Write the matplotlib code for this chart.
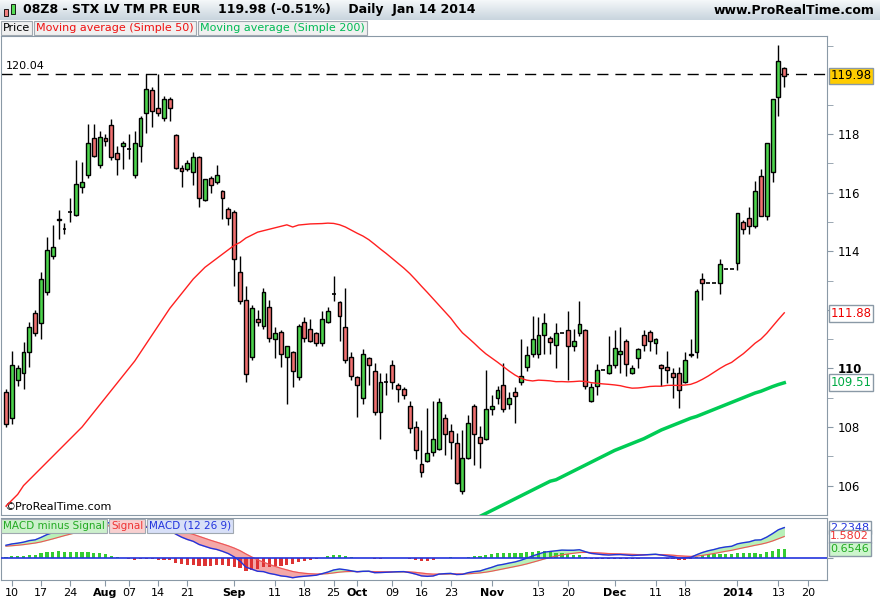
import numpy as np
import pandas as pd
import matplotlib
matplotlib.use("Agg")
import matplotlib.pyplot as plt
from matplotlib.patches import Rectangle

# ---------------- data ----------------
ohlc = [
(109.2,109.3,108.0,108.1),(108.3,110.6,108.1,110.1),(109.6,110.1,109.4,110.0),(109.85,110.9,109.3,110.55),
(110.55,111.6,110.05,111.4),(111.9,112.0,111.1,111.2),(111.55,113.3,111.0,113.05),(112.6,114.5,112.5,114.05),
(113.85,114.9,113.75,114.15),(115.1,115.4,114.4,115.05),(114.75,114.95,114.6,114.75),(115.35,115.8,115.0,115.35),
(115.25,117.1,115.2,116.3),(116.2,117.05,116.0,116.35),(116.6,118.35,116.5,117.7),(117.85,118.35,117.2,117.25),
(116.95,118.1,116.85,117.9),(117.85,118.0,117.6,117.75),(118.3,118.5,117.1,117.2),(117.35,117.6,116.6,117.15),
(117.6,117.75,116.8,117.7),(117.5,118.0,117.15,117.5),(116.6,118.1,116.5,117.7),(117.6,118.6,117.05,118.55),
(118.7,120.04,118.05,119.55),(119.5,119.6,118.25,118.8),(118.9,120.04,118.6,118.7),(118.55,119.3,118.45,119.2),
(119.2,119.25,118.45,118.9),(117.95,118.0,116.8,116.85),(116.85,116.95,116.2,116.75),(116.8,117.1,116.75,117.0),
(116.7,117.4,116.25,117.2),(117.2,117.25,115.5,115.8),(115.75,116.45,115.7,116.45),(116.5,116.55,116.0,116.25),
(116.35,116.95,116.3,116.6),(116.05,116.1,115.1,115.8),(115.45,115.5,114.9,115.15),(115.35,115.4,112.8,113.75),
(113.3,113.85,112.2,112.3),(112.35,112.8,109.55,109.8),(110.4,112.15,110.3,112.05),(111.7,112.0,111.45,111.6),
(111.45,112.75,111.35,112.6),(112.1,112.35,110.9,111.05),(111.0,111.4,110.35,111.2),(111.25,111.3,110.05,110.5),
(110.4,110.75,108.8,110.75),(110.55,110.6,109.35,109.9),(109.7,111.5,109.6,111.45),(111.6,111.75,110.9,111.05),
(111.35,111.7,110.9,110.95),(111.2,111.25,110.75,110.85),(110.85,111.95,110.75,111.7),(111.6,112.1,111.55,111.95),
(112.55,113.15,112.3,112.55),(112.25,112.3,110.95,111.8),(111.4,112.75,110.2,110.3),(110.4,110.55,109.6,109.75),
(109.7,109.75,108.35,109.45),(109.0,110.65,108.8,110.5),(110.35,110.4,109.45,110.1),(109.9,110.2,108.4,108.5),
(108.5,109.85,107.6,109.55),(109.55,109.85,109.1,109.55),(110.1,110.3,109.3,109.55),(109.45,109.5,108.85,109.3),
(109.3,109.35,108.95,109.1),(108.7,108.9,107.8,107.95),(108.0,108.2,106.9,107.2),(106.75,107.9,106.3,106.45),
(106.85,108.65,106.8,107.1),(107.15,108.9,107.0,107.6),(107.25,109.0,107.2,108.85),(108.3,108.45,107.05,107.75),
(107.85,108.1,106.9,107.5),(107.45,107.8,106.05,106.1),(105.8,107.9,105.7,106.95),(106.95,108.4,106.9,108.15),
(108.7,108.8,106.7,107.75),(107.65,108.05,106.6,107.45),(107.6,109.95,107.55,108.6),(108.6,109.1,108.4,108.7),
(109.0,109.4,108.8,109.25),(109.45,110.2,108.5,108.6),(108.8,109.2,108.6,109.0),(109.2,109.35,108.15,109.05),
(109.55,111.0,109.45,109.75),(110.05,110.75,109.9,110.45),(110.5,111.8,110.4,111.0),(110.5,111.75,110.35,111.15),
(111.15,111.9,110.5,111.55),(111.05,111.1,110.5,110.9),(110.8,111.55,110.0,111.2),(111.2,111.2,111.2,111.2),
(111.3,111.95,109.6,110.75),(110.75,111.35,110.6,110.95),(111.2,112.3,111.1,111.5),(111.3,111.35,109.3,109.4),
(108.9,109.5,108.85,109.35),(109.4,110.15,109.1,109.95),(109.95,109.95,109.95,109.95),(109.85,111.1,109.8,110.1),
(110.1,111.3,110.0,110.7),(110.5,111.4,109.85,110.6),(110.95,111.0,109.75,110.15),(109.85,110.1,109.8,110.0),
(110.35,110.7,110.0,110.65),(111.15,111.3,110.6,110.8),(111.25,111.3,110.6,110.95),(110.85,111.05,110.5,111.0),
(110.1,110.15,109.4,110.0),(110.05,110.6,109.5,109.95),(109.85,110.0,109.0,109.7),(109.85,110.05,108.65,109.25),
(109.55,110.55,109.5,110.3),(110.45,111.0,110.4,110.5),(110.55,112.7,110.35,112.65),(113.05,113.25,112.35,112.9),
(112.9,112.9,112.9,112.9),(112.9,112.9,112.9,112.9),(112.9,113.75,112.55,113.55),(113.4,113.4,113.4,113.4),
(113.4,113.4,113.4,113.4),(113.6,115.3,113.35,115.3),(115.0,115.05,114.6,114.75),(115.15,115.5,114.6,114.85),
(114.85,116.4,114.8,116.05),(116.55,116.8,115.2,115.2),(115.2,117.7,115.05,117.7),(116.7,119.2,116.35,119.2),
(119.25,121.05,118.6,120.5),(120.25,120.3,119.6,119.98),
]
opens = np.array([r[0] for r in ohlc]); highs = np.array([r[1] for r in ohlc])
lows = np.array([r[2] for r in ohlc]); closes = np.array([r[3] for r in ohlc])
n = len(closes)

# SMA50 before enough history, then computed
sma50_early = [105.3,105.5,105.7,106.0,106.2,106.4,106.6,106.8,107.0,107.2,107.4,107.6,107.8,108.0,
108.25,108.5,108.75,109.0,109.25,109.5,109.75,110.0,110.25,110.55,110.85,111.15,111.45,111.75,112.05,
112.3,112.55,112.8,113.05,113.25,113.45,113.6,113.75,113.9,114.05,114.2,114.3,114.45,114.55,114.65,
114.7,114.75,114.8,114.85,114.9]
sma200_start = 81
sma200_vals = [104.95,105.05,105.15,105.25,105.35,105.45,105.55,105.65,105.75,105.85,105.95,106.05,106.15,
106.2,106.3,106.4,106.5,106.6,106.7,106.8,106.9,107.0,107.1,107.2,107.28,107.36,107.44,107.52,107.6,
107.7,107.8,107.9,107.98,108.06,108.14,108.22,108.3,108.36,108.44,108.52,108.6,108.68,108.76,108.84,
108.92,109.0,109.08,109.16,109.22,109.3,109.38,109.45,109.51]
# EMA states before the first bar (read to match the MACD panel's starting level)
ema12_seed, ema26_seed, signal_seed = 108.0, 107.0, 0.85

tick_dates = ["2013-07-10","2013-07-17","2013-07-24","2013-08-01","2013-08-07","2013-08-14","2013-08-21",
"2013-09-02","2013-09-11","2013-09-18","2013-09-25","2013-10-01","2013-10-09","2013-10-16","2013-10-23",
"2013-11-01","2013-11-13","2013-11-20","2013-12-02","2013-12-11","2013-12-18","2014-01-02","2014-01-13","2014-01-20"]
tick_labels = ["10","17","24","Aug","07","14","21","Sep","11","18","25","Oct","09","16","23","Nov","13","20",
"Dec","11","18","2014","13","20"]
bold_labels = {"Aug","Sep","Oct","Nov","Dec","2014"}

# ---------------- derived ----------------
dates = pd.bdate_range("2013-07-09", "2014-01-31")
dates = dates[~dates.isin(pd.to_datetime(["2013-12-25", "2014-01-01"]))]
date_idx = {d.strftime("%Y-%m-%d"): i for i, d in enumerate(dates)}
tick_pos = [date_idx[d] for d in tick_dates]

sma50 = np.array(sma50_early + [closes[i-49:i+1].mean() for i in range(49, n)])
def ema(vals, seed, span):
    a = 2/(span+1); out = []; e = seed
    for v in vals:
        e = e + a*(v-e); out.append(e)
    return np.array(out)
macd = ema(closes, ema12_seed, 12) - ema(closes, ema26_seed, 26)
signal = ema(macd, signal_seed, 9)
hist = macd - signal

# ---------------- figure ----------------
W, H = 880, 600
fig = plt.figure(figsize=(8.8, 6.0), dpi=100)
fig.patch.set_facecolor("white")
renderer = fig.canvas.get_renderer()
def fx(x): return x/W
def fy(y): return 1-y/H

hdr = fig.add_axes([0, fy(20), 1, 20/H]); hdr.set_axis_off()
grad = np.linspace(0, 1, 20).reshape(-1, 1)
hdr.imshow(grad, aspect="auto", cmap=matplotlib.colors.LinearSegmentedColormap.from_list("g", ["#f4f7f9", "#c9d5de"]),
           extent=[0, 1, 0, 1])
hdr.set_xlim(0, 1); hdr.set_ylim(0, 1)
fig.text(fx(23), fy(10), "08Z8 - STX LV TM PR EUR    119.98 (-0.51%)    Daily  Jan 14 2014", fontsize=9,
         fontweight="bold", va="center", ha="left")
fig.text(fx(874), fy(10), "www.ProRealTime.com", fontsize=9, fontweight="bold", va="center", ha="right")
fig.patches.append(Rectangle((fx(4), fy(16)), 4/W, 7/H, transform=fig.transFigure, fc="#f08080", ec="k", lw=0.6))
fig.patches.append(Rectangle((fx(11), fy(14)), 4/W, 10/H, transform=fig.transFigure, fc="#55dd55", ec="k", lw=0.6))

RED = "#f07070"; GREEN = "#4cd44c"
ax = fig.add_axes([fx(1), fy(515), fx(826), (515-36)/H])
mx = fig.add_axes([fx(1), fy(580), fx(826), (580-518)/H], sharex=ax)

def y2p(y): return 118 - (y-134)/29.3
ax.set_ylim(y2p(515), y2p(36))
ax.set_xlim(-0.85, 140.3)

idx = np.arange(n)
bw = 0.66
for i in idx:
    o, h, l, c = opens[i], highs[i], lows[i], closes[i]
    ax.vlines(i, l, h, color="black", lw=1.0, zorder=2)
    if abs(c-o) < 0.02:
        ax.hlines(o, i-bw/2, i+bw/2, color="black", lw=1.2, zorder=3)
    else:
        col = GREEN if c > o else RED
        ax.add_patch(Rectangle((i-bw/2, min(o, c)), bw, abs(c-o), fc=col, ec="black", lw=1.0, zorder=3))

ax.plot(idx, sma50, color="#ff2020", lw=1.0, zorder=4)
ax.plot(idx[sma200_start:], sma200_vals, color="#00cc55", lw=2.5, zorder=4)
ax.axhline(120.04, color="black", lw=1.0, dashes=(8, 5), zorder=1)
ax.text(0.006, 120.04+0.1, "120.04", transform=ax.get_yaxis_transform(), fontsize=8, va="bottom", ha="left")
ax.text(0.004, 0.006, "©ProRealTime.com", transform=ax.transAxes, fontsize=8, va="bottom", ha="left")

for a in (ax, mx):
    a.yaxis.tick_right()
    for s in a.spines.values():
        s.set_color("#8a99a6")
    a.tick_params(axis="y", colors="#8a99a6", labelcolor="black", labelsize=8.5, length=4, direction="out")
ax.set_yticks([106, 108, 110, 112, 114, 116, 118])
ax.set_yticklabels(["106", "108", "110", "", "114", "116", "118"])
ax.get_yticklabels()[2].set_fontweight("bold")
ax.set_yticks([107, 109, 111, 113, 115, 117, 119, 121], minor=True)
ax.tick_params(axis="y", which="minor", length=4, colors="#8a99a6")
ax.tick_params(axis="x", bottom=False, labelbottom=False)

def tag(a, val, text, fc, tc, ec="#8a99a6", fs=8.5):
    a.text(1.004, val, text, transform=a.get_yaxis_transform(), fontsize=fs, va="center", ha="left", color=tc,
           bbox=dict(boxstyle="square,pad=0.15", fc=fc, ec=ec, lw=1), clip_on=False, zorder=10)
tag(ax, closes[-1], f"{closes[-1]:.2f}", "#ffcc00", "black")
tag(ax, 111.88, "111.88", "white", "#ee0000")
tag(ax, 109.51, "109.51", "white", "#00aa44")

def chain(items, x0, y, fs):
    x = x0
    for text, tc, fc in items:
        t = fig.text(fx(x), fy(y), text, fontsize=fs, color=tc, va="center", ha="left",
                     bbox=dict(boxstyle="square,pad=0.2", fc=fc, ec="#a0a8b0", lw=0.8), zorder=20)
        bb = t.get_window_extent(renderer)
        x = bb.x1 + 6
chain([("Price", "black", "#f0f0f0"), ("Moving average (Simple 50)", "#ee1111", "#f0f0f0"),
       ("Moving average (Simple 200)", "#00bb55", "#f0f0f0")], 3, 28, 8)

mx.set_ylim(-1.62, 2.94)
mx.bar(idx, hist, width=0.55, color=np.where(hist >= 0, "#33cc33", "#dd3333"), zorder=2)
mx.fill_between(idx, macd, signal, where=macd >= signal, color="#b8f0b8", interpolate=True, zorder=1)
mx.fill_between(idx, macd, signal, where=macd < signal, color="#f4a8a8", interpolate=True, zorder=1)
mx.plot(idx, signal, color="#ee5555", lw=0.8, zorder=3)
mx.plot(idx, macd, color="#2233dd", lw=1.0, zorder=4)
mx.axhline(0, color="#2233dd", lw=1.2, zorder=3)
mx.set_yticks([0]); mx.set_yticklabels([""])
tag(mx, macd[-1], f"{macd[-1]:.4f}", "white", "#2233dd", fs=8)
tag(mx, signal[-1], f"{signal[-1]:.4f}", "white", "#ee3333", fs=8)
tag(mx, hist[-1], f"{hist[-1]:.4f}", "#ccf5cc", "#22aa22", fs=8)
chain([("MACD minus Signal", "#22aa22", "#ccf0cc"), ("Signal", "#ee3333", "#f8d0d0"),
       ("MACD (12 26 9)", "#2233dd", "#d8e0f8")], 3, 526, 7.5)

mx.set_xticks(tick_pos)
mx.set_xticklabels(tick_labels)
mx.tick_params(axis="x", labelsize=8, length=4, colors="#8a99a6", labelcolor="black", pad=2)
for t in mx.get_xticklabels():
    if t.get_text() in bold_labels:
        t.set_fontweight("bold")

fig.savefig("out.png", dpi=100)
